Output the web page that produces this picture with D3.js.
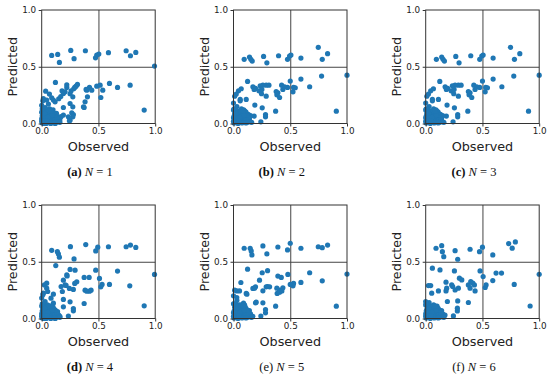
<!DOCTYPE html>
<html>
<head>
<meta charset="utf-8">
<script src="https://cdn.jsdelivr.net/npm/d3@7"></script>
<style>
  body { margin: 0; background: #fff; }
  svg { display: block; }
</style>
</head>
<body>
<svg id="chart"></svg>
<script>
// observed / predicted pairs
// dense blob near the origin, same look in every panel
const coreBlob = [[0.005,0.005],[0.015,0.015],[0.025,0.03],[0.035,0.02],[0.045,0.045],[0.055,0.015],[0.065,0.04],[0.075,0.055],[0.085,0.025],[0.095,0.015],[0.105,0.045],[0.115,0.035],[0.125,0.015],[0.135,0.045],[0.02,0.075],[0.04,0.06],[0.06,0.085],[0.08,0.065],[0.1,0.09],[0.12,0.075],[0.015,0.045],[0.035,0.1],[0.055,0.055],[0.075,0.005],[0.095,0.075],[0.045,0.025],[0.005,0.065],[0.065,0.11],[0.025,0.09],[0.085,0.11],[0.145,0.015],[0.11,0.005],[0,0.02],[0.16,0.01],[0.005,0.13]];

const clusterA = [[0.01,0.02],[0.02,0.05],[0.03,0.01],[0.04,0.08],[0.05,0.03],[0.06,0.06],[0.07,0.02],[0.08,0.09],[0.09,0.04],[0.1,0.07],[0.11,0.02],[0.12,0.05],[0.13,0.03],[0.15,0.02],[0.02,0.11],[0.03,0.14],[0.05,0.12],[0.07,0.13],[0.1,0.12],[0.01,0.08],[0,0.04],[0,0.1],[0.04,0],[0.08,0],[0.12,0],[0.06,0.1],[0.09,0.1],[0.14,0.06],[0.16,0.03],[0.03,0.04],[0.05,0.07],[0.11,0.09],[0.02,0],[0.17,0.06],[0.13,0.09],[0,0.16],[0.01,0.2]];
const pointsA = [[0.088,0.6],[0.141,0.609],[0.156,0.538],[0.256,0.644],[0.285,0.571],[0.385,0.641],[0.474,0.579],[0.485,0.603],[0.503,0.612],[0.588,0.624],[0.744,0.641],[0.782,0.597],[0.829,0.626],[0.994,0.506],
  [0.035,0.285],[0.015,0.22],[0.044,0.206],[0.059,0.171],[0.068,0.259],[0.088,0.226],[0.103,0.206],[0.121,0.362],[0.118,0.191],[0.15,0.218],[0.168,0.238],[0.179,0.288],[0.191,0.265],[0.206,0.279],[0.221,0.318],[0.221,0.341],[0.25,0.262],[0.259,0.288],[0.274,0.235],[0.25,0.176],[0.282,0.306],[0.291,0.318],[0.303,0.329],[0.315,0.344],[0.274,0.147],[0.265,0.094],[0.235,0.059],[0.25,0.029],[0.191,0.074],[0.15,0.041],
  [0.391,0.3],[0.403,0.235],[0.382,0.191],[0.368,0.147],[0.421,0.318],[0.441,0.294],[0.485,0.329],[0.515,0.338],[0.538,0.294],[0.521,0.229],[0.597,0.353],[0.668,0.318],[0.779,0.338],[0.903,0.118],[0.397,0.294],[0.374,0.141],[0.279,0.079],[0.274,0.059],[0.244,0.024],[0.191,0.141]].concat(clusterA, coreBlob);

const clusterB = [[0.01,0.03],[0.02,0.06],[0.03,0.01],[0.04,0.09],[0.05,0.04],[0.06,0.07],[0.07,0.02],[0.08,0.1],[0.09,0.05],[0.1,0.08],[0.11,0.03],[0.12,0.06],[0.13,0.02],[0.14,0.04],[0.02,0.12],[0.03,0.15],[0.05,0.11],[0.07,0.13],[0.1,0.11],[0.01,0.09],[0,0.05],[0,0.12],[0.04,0],[0.08,0.01],[0.12,0.01],[0.06,0.1],[0.09,0.12],[0.15,0.07],[0.03,0.05],[0.05,0.08],[0.11,0.1],[0.02,0.01],[0.13,0.08],[0,0.18],[0.01,0.24]];
const pointsB = [[0.094,0.565],[0.141,0.585],[0.153,0.565],[0.165,0.55],[0.265,0.591],[0.294,0.535],[0.397,0.597],[0.476,0.565],[0.494,0.594],[0.506,0.603],[0.594,0.576],[0.747,0.671],[0.829,0.615],[0.782,0.565],[1.0,0.426],[0.776,0.418],[0.671,0.324],[0.594,0.391],[0.906,0.109],
  [0.524,0.279],[0.529,0.318],[0.5,0.374],[0.476,0.318],[0.424,0.338],[0.435,0.3],[0.376,0.282],[0.382,0.253],[0.406,0.229],[0.371,0.109],[0.288,0.338],[0.312,0.338],[0.259,0.338],[0.235,0.332],[0.194,0.309],[0.124,0.371],[0.171,0.324],[0.182,0.3],[0.224,0.288],[0.247,0.262],[0.288,0.241],[0.112,0.212],[0.188,0.162],[0.253,0.138],[0.282,0.079],[0.282,0.059],[0.241,0.015],[0.182,0.065],
  [0.044,0.288],[0.024,0.259],[0.068,0.306],[0.059,0.212],[0.059,0.2],[0.45,0.324],[0.544,0.315],[0.25,0.3],[0.391,0.271]].concat(clusterB, coreBlob);
const pointsC = pointsB;

const clusterD = [[0.01,0.02],[0.02,0.06],[0.03,0.01],[0.04,0.09],[0.05,0.03],[0.06,0.06],[0.07,0.02],[0.08,0.08],[0.09,0.04],[0.1,0.06],[0.11,0.02],[0.12,0.05],[0.13,0.02],[0.15,0.03],[0.02,0.12],[0.03,0.15],[0.05,0.12],[0.07,0.11],[0.1,0.1],[0.01,0.09],[0,0.04],[0,0.11],[0.04,0],[0.08,0],[0.12,0],[0.06,0.09],[0.14,0.06],[0.16,0.02],[0.03,0.04],[0.05,0.07],[0.11,0.08],[0.02,0],[0,0.18],[0.01,0.21]];
const pointsD = [[0.088,0.601],[0.138,0.589],[0.147,0.569],[0.156,0.54],[0.124,0.466],[0.253,0.633],[0.285,0.525],[0.388,0.651],[0.476,0.595],[0.494,0.628],[0.588,0.632],[0.744,0.632],[0.782,0.647],[0.829,0.626],[0.994,0.388],[0.668,0.418],[0.776,0.288],[0.903,0.112],
  [0.509,0.353],[0.532,0.3],[0.521,0.279],[0.597,0.3],[0.476,0.426],[0.25,0.432],[0.294,0.426],[0.374,0.362],[0.418,0.362],[0.382,0.25],[0.421,0.241],[0.397,0.241],[0.435,0.25],[0.374,0.132],[0.309,0.324],[0.291,0.309],[0.279,0.256],[0.244,0.265],[0.215,0.291],[0.191,0.338],[0.25,0.147],[0.279,0.088],[0.279,0.068],[0.235,0.021],[0.191,0.103],[0.191,0.168],
  [0.024,0.296],[0.044,0.311],[0.015,0.223],[0.044,0.267],[0.053,0.238],[0.103,0.214],[0.082,0.179],[0.103,0.135],[0.182,0.238],[0.171,0.282],[0.221,0.384],[0.206,0.296],[0.224,0.375]].concat(clusterD, coreBlob);

const clusterE = [[0.01,0.03],[0.02,0.07],[0.03,0.01],[0.04,0.1],[0.05,0.04],[0.06,0.07],[0.07,0.02],[0.08,0.09],[0.09,0.05],[0.1,0.07],[0.11,0.03],[0.12,0.06],[0.13,0.02],[0.15,0.04],[0.02,0.13],[0.03,0.16],[0.05,0.12],[0.07,0.12],[0.1,0.11],[0.01,0.1],[0,0.05],[0,0.13],[0.04,0],[0.08,0.01],[0.12,0.01],[0.06,0.1],[0.14,0.07],[0.17,0.02],[0.03,0.05],[0.05,0.08],[0.11,0.09],[0.02,0.01],[0,0.2],[0.01,0.25]];
const pointsE = [[0.094,0.619],[0.147,0.619],[0.156,0.595],[0.162,0.56],[0.259,0.639],[0.294,0.569],[0.391,0.63],[0.476,0.604],[0.5,0.663],[0.594,0.619],[0.747,0.632],[0.782,0.624],[0.829,0.647],[1.0,0.391],[0.782,0.332],[0.671,0.403],[0.594,0.318],[0.906,0.109],
  [0.529,0.309],[0.524,0.288],[0.5,0.3],[0.479,0.388],[0.421,0.362],[0.391,0.374],[0.435,0.271],[0.406,0.25],[0.385,0.221],[0.371,0.109],[0.3,0.421],[0.253,0.403],[0.124,0.435],[0.288,0.279],[0.229,0.338],[0.194,0.279],[0.171,0.265],[0.259,0.244],[0.318,0.279],[0.194,0.138],[0.259,0.138],[0.282,0.079],[0.282,0.05],[0.241,0.021],[0.112,0.221],
  [0.029,0.243],[0.053,0.243],[0.065,0.317],[0.118,0.214],[0.029,0.185],[0.088,0.135],[0.097,0.12],[0.2,0.144],[0.185,0.267],[0.3,0.282],[0.382,0.267],[0.406,0.232],[0.426,0.243]].concat(clusterE, coreBlob);

const clusterF = [[0.01,0.02],[0.02,0.06],[0.03,0.01],[0.04,0.09],[0.05,0.03],[0.06,0.07],[0.07,0.02],[0.08,0.09],[0.09,0.04],[0.1,0.07],[0.11,0.02],[0.12,0.05],[0.13,0.03],[0.15,0.04],[0.02,0.12],[0.03,0.14],[0.05,0.11],[0.07,0.12],[0.1,0.11],[0.01,0.08],[0,0.04],[0,0.12],[0.04,0],[0.08,0.01],[0.12,0.01],[0.06,0.1],[0.14,0.07],[0.17,0.03],[0.03,0.05],[0.05,0.07],[0.11,0.09],[0,0.15],[0.02,0.01]];
const pointsF = [[0.091,0.619],[0.141,0.642],[0.147,0.589],[0.159,0.545],[0.259,0.598],[0.282,0.522],[0.391,0.61],[0.474,0.589],[0.5,0.628],[0.591,0.56],[0.731,0.66],[0.79,0.675],[0.762,0.62],[1.0,0.39],[0.78,0.3],[0.668,0.4],[0.62,0.4],[0.92,0.11],
  [0.059,0.443],[0.126,0.428],[0.253,0.419],[0.024,0.29],[0.044,0.29],[0.053,0.223],[0.112,0.243],[0.179,0.32],[0.179,0.243],[0.185,0.267],[0.191,0.15],[0.229,0.296],[0.238,0.282],[0.259,0.252],[0.288,0.267],[0.282,0.155],[0.279,0.067],[0.279,0.091],[0.244,0.023],[0.297,0.355],[0.318,0.34],[0.376,0.296],[0.376,0.141],[0.391,0.267],[0.397,0.326],[0.415,0.311],[0.429,0.296],[0.435,0.243],[0.479,0.419],[0.506,0.37],[0.524,0.273],[0.532,0.296],[0.591,0.334]].concat(clusterF, coreBlob);

const panelLetters = ["a", "b", "c", "d", "e", "f"];
const panelN = [1, 2, 3, 4, 5, 6];
const panelPoints = [pointsA, pointsB, pointsC, pointsD, pointsE, pointsF];
const tickValues = [0, 0.5, 1];

const width = 550, height = 377;
const size = 113.5;
const colX = [41.7, 233.5, 425.7];
const rowY = [10, 205];

const svg = d3.select("#chart").attr("width", width).attr("height", height);

const x = d3.scaleLinear().domain([0, 1]).range([0, size]);
const y = d3.scaleLinear().domain([0, 1]).range([size, 0]);
const fmt = d3.format(".1f");

panelLetters.forEach((letter, i) => {
  const col = i % 3, row = Math.floor(i / 3);
  const g = svg.append("g")
    .attr("transform", `translate(${colX[col]},${rowY[row]})`);

  // grid lines at 0.5
  g.append("g")
    .attr("transform", `translate(0,${size})`)
    .call(d3.axisBottom(x).tickValues([0.5]).tickSize(-size).tickFormat(""))
    .call(a => a.select(".domain").remove())
    .selectAll("line").attr("stroke", "#444").attr("stroke-width", 1);
  g.append("g")
    .call(d3.axisLeft(y).tickValues([0.5]).tickSize(-size).tickFormat(""))
    .call(a => a.select(".domain").remove())
    .selectAll("line").attr("stroke", "#444").attr("stroke-width", 1);

  // points
  g.append("g")
    .selectAll("circle")
    .data(panelPoints[i])
    .enter()
    .append("circle")
    .attr("cx", d => x(d[0]))
    .attr("cy", d => y(d[1]))
    .attr("r", 2.6)
    .attr("fill", "#1f77b4");

  // frame
  g.append("rect")
    .attr("width", size).attr("height", size)
    .attr("fill", "none").attr("stroke", "#333").attr("stroke-width", 1);

  // axes
  const xa = g.append("g")
    .attr("transform", `translate(0,${size})`)
    .call(d3.axisBottom(x).tickValues(tickValues).tickFormat(fmt).tickSize(3).tickPadding(1.5));
  const ya = g.append("g")
    .call(d3.axisLeft(y).tickValues(tickValues).tickFormat(fmt).tickSize(3).tickPadding(2.5));
  [xa, ya].forEach(a => {
    a.select(".domain").remove();
    a.selectAll("line").attr("stroke", "#333");
    a.selectAll("text")
      .attr("fill", "#222")
      .style("font-family", "DejaVu Sans")
      .style("font-size", "8.8px");
  });

  g.append("text")
    .attr("x", size / 2).attr("y", size + 27)
    .attr("text-anchor", "middle")
    .style("font-family", "DejaVu Sans").style("font-size", "12.8px")
    .attr("fill", "#222")
    .text("Observed");

  g.append("text")
    .attr("transform", `translate(${-25},${size / 2}) rotate(-90)`)
    .attr("text-anchor", "middle")
    .style("font-family", "DejaVu Sans").style("font-size", "12.7px")
    .attr("fill", "#222")
    .text("Predicted");

  // caption
  const cap = g.append("text")
    .attr("x", size / 2 - 8.5).attr("y", size + 52.5)
    .attr("text-anchor", "middle")
    .style("font-family", "Liberation Serif").style("font-size", "12.5px")
    .attr("fill", "#111");
  cap.append("tspan").text("(" + letter + ")")
    .style("font-weight", i < 4 ? "bold" : "normal");
  cap.append("tspan").text(" ");
  cap.append("tspan").text("N").style("font-style", "italic");
  cap.append("tspan").text(" = " + panelN[i]);
});
</script>
</body>
</html>
